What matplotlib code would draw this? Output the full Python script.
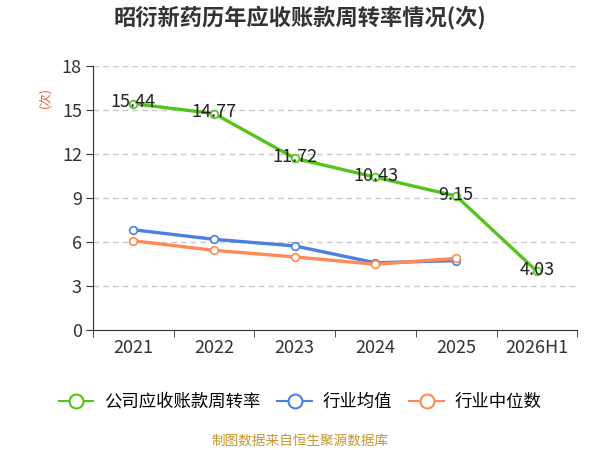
import matplotlib
matplotlib.use('Agg')
import matplotlib.pyplot as plt
from matplotlib.lines import Line2D
import numpy as np

plt.rcParams['font.family'] = ['Noto Sans CJK SC', 'DejaVu Sans']

years = ['2021', '2022', '2023', '2024', '2025', '2026H1']
company = [15.44, 14.77, 11.72, 10.43, 9.15, 4.03]
ind_mean = [6.85, 6.2, 5.75, 4.6, 4.75]
ind_median = [6.1, 5.45, 5.0, 4.5, 4.9]
yticks = [0, 3, 6, 9, 12, 15, 18]
names = ['公司应收账款周转率', '行业均值', '行业中位数']

c_green = '#52c41a'
c_blue = '#4a7fe3'
c_orange = '#ff8a55'

fig = plt.figure(figsize=(6, 4.5), dpi=100)
ax = fig.add_axes([0.155, 0.266, 0.807, 0.587])

x = np.arange(len(years))
for vals, c in [(company, c_green), (ind_mean, c_blue), (ind_median, c_orange)]:
    ax.plot(x[:len(vals)], vals, color=c, lw=2.4, marker='o', ms=5.5, mfc='white', mec=c, mew=1.2, zorder=3)

for xi, v in zip(x, company):
    ax.text(xi, v + 0.1, f'{v:.2f}', ha='center', va='center', fontsize=13, color='#222222', zorder=4)

ax.set_xlim(-0.5, len(years) - 0.5)
ax.set_ylim(0, 18)
ax.set_yticks(yticks)
ax.set_yticklabels([str(t) for t in yticks], fontsize=13, color='#333333')
ax.set_xticks(x)
ax.set_xticklabels(years, fontsize=13, color='#333333')
ax.set_xticks(np.arange(len(years) + 1) - 0.5, minor=True)
ax.tick_params(axis='x', which='major', length=0, pad=6)
ax.tick_params(axis='x', which='minor', length=5, color='#333333')
ax.tick_params(axis='y', length=5, color='#333333', pad=3)
ax.grid(axis='y', ls=(0, (4, 3)), color='#c8c8c8', lw=1)
for s in ['top', 'right']:
    ax.spines[s].set_visible(False)
ax.spines['left'].set_color('#333333')
ax.spines['bottom'].set_color('#333333')

ax.set_ylabel('(次)', color='#e8602c', fontsize=9, labelpad=2)
ax.yaxis.set_label_coords(-0.085, 0.88)

fig.text(0.5, 0.962, '昭衍新药历年应收账款周转率情况(次)', ha='center', va='center', fontsize=16,
         fontweight='bold', color='#333333')

handles = [Line2D([], [], color=c, lw=1.5, marker='o', ms=10, mfc='white', mec=c, mew=1.5)
           for c in [c_green, c_blue, c_orange]]
fig.legend(handles, names, loc='center', bbox_to_anchor=(0.5, 0.107), ncol=3, frameon=False, fontsize=12.5,
           handlelength=2.0, columnspacing=1.0, handletextpad=0.6)

fig.text(0.5, 0.018, '制图数据来自恒生聚源数据库', ha='center', va='center', fontsize=9.8, color='#c8962e')

fig.savefig('out.png', dpi=100)
